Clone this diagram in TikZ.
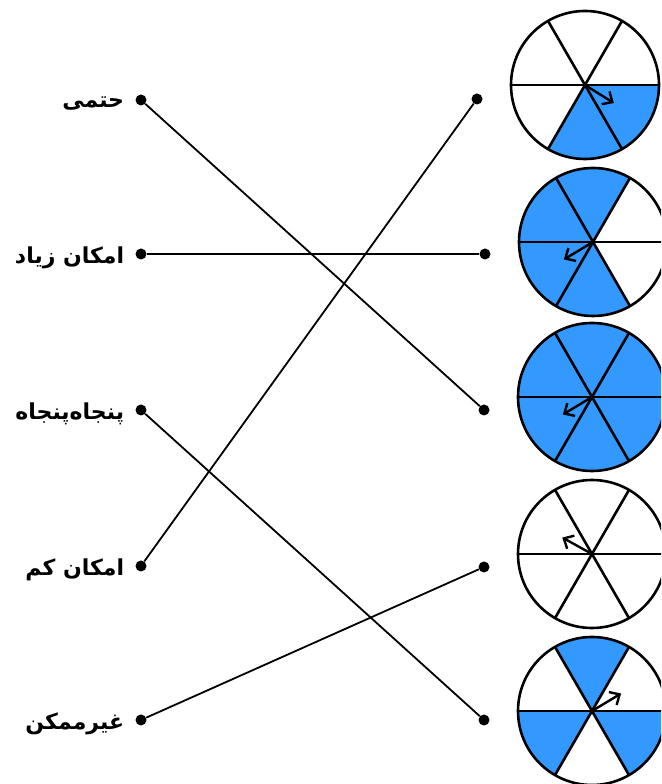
\documentclass[tikz,border=0pt]{standalone}
\usepackage{fontspec}
\newfontfamily\arabicfont[Script=Arabic]{DejaVu Sans}
\TeXXeTstate=1
\usetikzlibrary{arrows.meta, positioning}
\definecolor{spinblue}{HTML}{3399FF}
\newcommand\sector[2]{\fill[spinblue] (#1) -- ++(#2:74) arc[start angle=#2, delta angle=60, radius=74] -- cycle;}

\begin{document}
\begin{tikzpicture}[x=1pt, y=1pt,
  dot/.style={circle, fill, inner sep=0pt, minimum size=11pt},
  lbl/.style={font=\arabicfont\bfseries\fontsize{22}{26}\selectfont, inner sep=0pt},
  edge/.style={line width=1.8pt},
  rim/.style={line width=2.6pt},
  pointer/.style={line width=2.4pt, -{Straight Barb[length=8pt, width=15pt]}}]
  \useasboundingbox (0,0) rectangle (661,784);
  \clip (0,0) rectangle (661,784);
  % left column
  \node[dot] (L1) at (141,684) {};
  \node[dot] (L2) at (141,530) {};
  \node[dot] (L3) at (141,374) {};
  \node[dot] (L4) at (141,218) {};
  \node[dot] (L5) at (141,64) {};
  \node[lbl, left=11pt of L1, yshift=-4pt] (t1) {\beginR حتمی\endR};
  \node[lbl, left=11pt of L2, yshift=-4pt] (t2) {\beginR امکان زیاد\endR};
  \node[lbl, left=11pt of L3, yshift=-4pt] (t3) {\beginR پنجاه‌پنجاه\endR};
  \node[lbl, left=11pt of L4, yshift=-4pt] (t4) {\beginR امکان کم\endR};
  \node[lbl, left=11pt of L5, yshift=-4pt] (t5) {\beginR غیرممکن\endR};
  % right column
  \node[dot] (R1) at (477,685) {};
  \node[dot] (R2) at (485,530) {};
  \node[dot] (R3) at (484,374) {};
  \node[dot] (R4) at (484,217) {};
  \node[dot] (R5) at (484,64) {};
  \draw[edge] (L1) -- (R3);
  \draw[edge] (L2) -- (R2);
  \draw[edge] (L3) -- (R5);
  \draw[edge] (L4) -- (R1);
  \draw[edge] (L5) -- (R4);
  % spinners
  \coordinate (S1) at (585,699);
  \coordinate (S2) at (593,542);
  \coordinate (S3) at (592,387);
  \coordinate (S4) at (592,230);
  \coordinate (S5) at (592,73);
  \foreach \a in {240,300} {\sector{S1}{\a}}
  \foreach \a in {60,120,180,240} {\sector{S2}{\a}}
  \foreach \a in {0,60,...,300} {\sector{S3}{\a}}
  \foreach \a in {60,180,300} {\sector{S5}{\a}}
  \foreach \c/\r in {S1/-32, S2/211, S3/211, S4/151, S5/31} {
    \draw[rim] (\c) circle[radius=74];
    \foreach \a in {0,60,120} {\draw[rim] (\c) ++(\a:74) -- ++(\a+180:148);}
    \draw[pointer] (\c) -- ++(\r:34);
  }
\end{tikzpicture}
\end{document}
